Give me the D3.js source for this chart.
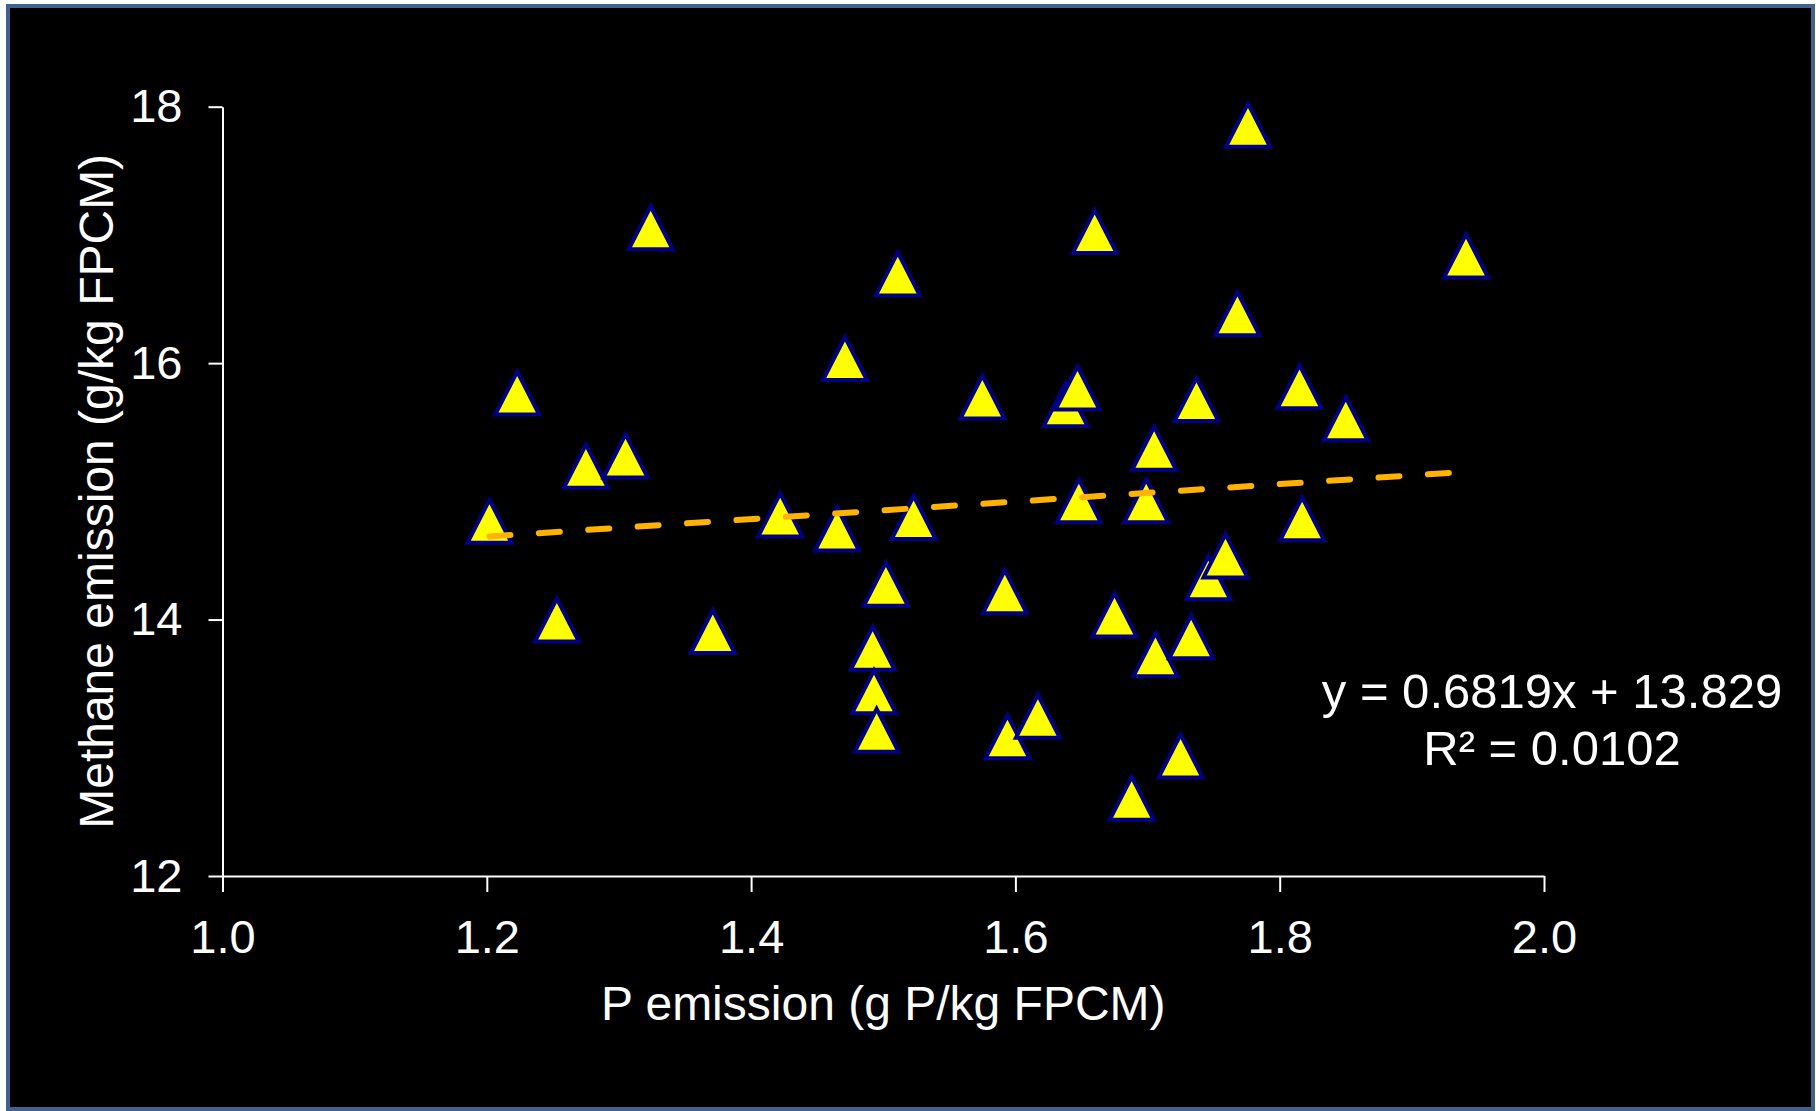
<!DOCTYPE html>
<html>
<head>
<meta charset="utf-8">
<script src="https://cdn.jsdelivr.net/npm/d3@7"></script>
<style>
    html, body { margin: 0; padding: 0; background: #ffffff; }
    svg { display: block; }
    text { font-family: "Liberation Sans", Arial, sans-serif; fill: #ffffff; }
</style>
</head>
<body>
<svg id="chart" width="1816" height="1111"></svg>
<script>
// P emission (g P/kg FPCM), one value per cow
var pEmission = [1.202, 1.223, 1.253, 1.275, 1.305, 1.324, 1.371, 1.422, 1.465, 1.471,
    1.492, 1.493, 1.495, 1.502, 1.511, 1.523, 1.575, 1.592, 1.594, 1.617,
    1.638, 1.647, 1.648, 1.660, 1.675, 1.688, 1.699, 1.706, 1.705, 1.725,
    1.733, 1.737, 1.746, 1.759, 1.768, 1.776, 1.815, 1.817, 1.850, 1.941];

// Methane emission (g/kg FPCM), same order
var methane = [14.77, 15.77, 14.00, 15.20, 15.28, 17.06, 13.91, 14.82, 14.71, 16.04,
    13.78, 13.44, 13.14, 14.28, 16.70, 14.80, 15.74, 14.22, 13.09, 13.25,
    15.68, 15.81, 14.93, 17.03, 14.04, 12.61, 14.93, 13.73, 15.34, 12.94,
    13.87, 15.72, 14.33, 14.50, 16.39, 17.86, 15.82, 14.79, 15.57, 16.84];

var xTicks = [1.0, 1.2, 1.4, 1.6, 1.8, 2.0];
var yTicks = [12, 14, 16, 18];

// linear trend as printed on the chart
var slope = 0.6819,
    intercept = 13.829;
var eqLines = ["y = 0.6819x + 13.829", "R² = 0.0102"];

var svg = d3.select("#chart"),
    width = +svg.attr("width"),
    height = +svg.attr("height");

var margin = {t: 106.7, r: 272, b: 235, l: 222.5};

// black panel with blue frame
svg.append("rect")
    .attr("x", 8)
    .attr("y", 6)
    .attr("width", width - 11)
    .attr("height", height - 8)
    .attr("fill", "#000000")
    .attr("stroke", "#41628f")
    .attr("stroke-width", 4);

var x = d3.scaleLinear()
    .domain([1.0, 2.0])
    .range([margin.l, width - margin.r]);

var y = d3.scaleLinear()
    .domain([12, 18])
    .range([height - margin.b, margin.t]);

// axes
var xAxis = svg.append("g")
    .attr("transform", "translate(0," + y(12) + ")")
    .call(d3.axisBottom(x).tickValues(xTicks).tickFormat(d3.format(".1f")).tickSizeInner(16).tickSizeOuter(0).tickPadding(28));

var yAxis = svg.append("g")
    .attr("transform", "translate(" + x(1.0) + ",0)")
    .call(d3.axisLeft(y).tickValues(yTicks).tickFormat(d3.format("d")).tickSizeInner(14).tickSizeOuter(0).tickPadding(26));

[xAxis, yAxis].forEach(function (ax) {
    ax.select(".domain").attr("stroke", "#ffffff").attr("stroke-width", 2);
    ax.selectAll(".tick line").attr("stroke", "#ffffff").attr("stroke-width", 2);
    ax.selectAll(".tick text")
        .attr("fill", "#ffffff")
        .style("font-family", "'Liberation Sans', Arial, sans-serif")
        .style("font-size", "47px");
});

// axis titles
svg.append("text")
    .attr("x", (x(1.0) + x(2.0)) / 2)
    .attr("y", 1020)
    .attr("text-anchor", "middle")
    .style("font-size", "48px")
    .text("P emission (g P/kg FPCM)");

svg.append("text")
    .attr("transform", "translate(113," + (y(12) + y(18)) / 2 + ") rotate(-90)")
    .attr("text-anchor", "middle")
    .style("font-size", "48px")
    .text("Methane emission (g/kg FPCM)");

// triangle markers
var tri = "M0,-21L22,22L-22,22Z";

svg.append("g")
    .selectAll("path")
    .data(pEmission)
    .enter().append("path")
    .attr("d", tri)
    .attr("transform", function (d, i) {
        return "translate(" + x(d) + "," + y(methane[i]) + ")";
    })
    .attr("fill", "#ffff00")
    .attr("stroke", "#000080")
    .attr("stroke-width", 4)
    .attr("stroke-linejoin", "miter");

// dashed trend line over the data range
var xMin = d3.min(pEmission),
    xMax = d3.max(pEmission);

svg.append("line")
    .attr("x1", x(xMin))
    .attr("y1", y(slope * xMin + intercept))
    .attr("x2", x(xMax))
    .attr("y2", y(slope * xMax + intercept))
    .attr("stroke", "#ffb300")
    .attr("stroke-width", 6)
    .attr("stroke-linecap", "round")
    .attr("stroke-dasharray", "21,28.5");

// equation label
svg.append("g")
    .selectAll("text")
    .data(eqLines)
    .enter().append("text")
    .attr("x", 1552)
    .attr("y", function (d, i) { return 708 + i * 57; })
    .attr("text-anchor", "middle")
    .style("font-size", "49px")
    .text(function (d) { return d; });
</script>
</body>
</html>
